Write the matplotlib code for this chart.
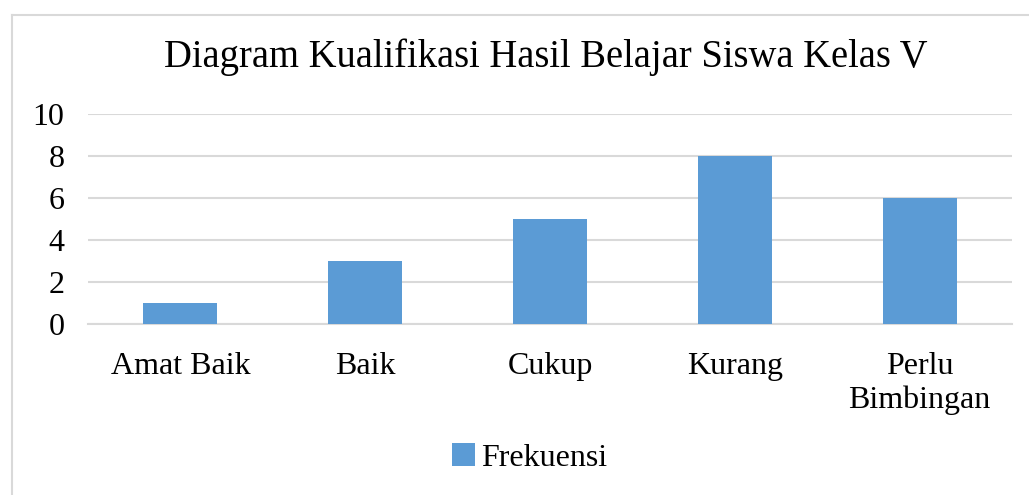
import matplotlib
matplotlib.use("Agg")
import matplotlib.pyplot as plt
from matplotlib.lines import Line2D

categories = ["Amat Baik", "Baik", "Cukup", "Kurang", "Perlu\nBimbingan"]
frekuensi = [1, 3, 5, 8, 6]
yticks = [0, 2, 4, 6, 8, 10]

plt.rcParams.update({"font.family": ["Liberation Serif", "DejaVu Serif"]})

fig = plt.figure(figsize=(10.29, 4.95), dpi=100)
ax = fig.add_axes([0.0855, 0.3455, 0.898, 0.4242])

x = range(len(categories))
ax.bar(x, frekuensi, width=0.4, color="#5b9bd5", label="Frekuensi", zorder=3)
ax.set_xlim(-0.5, len(categories) - 0.5)
ax.set_ylim(0, 10)
ax.set_yticks(yticks)
ax.set_xticks(list(x))
ax.set_xticklabels(categories, linespacing=1.2)
ax.tick_params(axis="both", length=0, labelsize=23, colors="black")
ax.tick_params(axis="x", pad=20)
ax.tick_params(axis="y", pad=17)
ax.grid(axis="y", color="#d9d9d9", linewidth=1.5, zorder=0)
for s in ["top", "right", "left"]:
    ax.spines[s].set_visible(False)
ax.spines["bottom"].set_color("#d9d9d9")
ax.spines["bottom"].set_linewidth(1.5)

fig.text(0.53, 0.885, "Diagram Kualifikasi Hasil Belajar Siswa Kelas V",
         ha="center", va="center", fontsize=27.8)

fig.legend(loc="center", bbox_to_anchor=(0.515, 0.075), frameon=False,
           fontsize=23, handlelength=0.7, handleheight=0.7, handletextpad=0.2)

# chart frame: only the top and left edges are visible in the crop
bx, by = 11.5 / 1029, 1 - 14.5 / 495
fig.lines.append(Line2D([bx, 1.0], [by, by], transform=fig.transFigure,
                        color="#d9d9d9", linewidth=1.5))
fig.lines.append(Line2D([bx, bx], [0.0, by], transform=fig.transFigure,
                        color="#d9d9d9", linewidth=1.5))

fig.savefig("out.png", dpi=100)
